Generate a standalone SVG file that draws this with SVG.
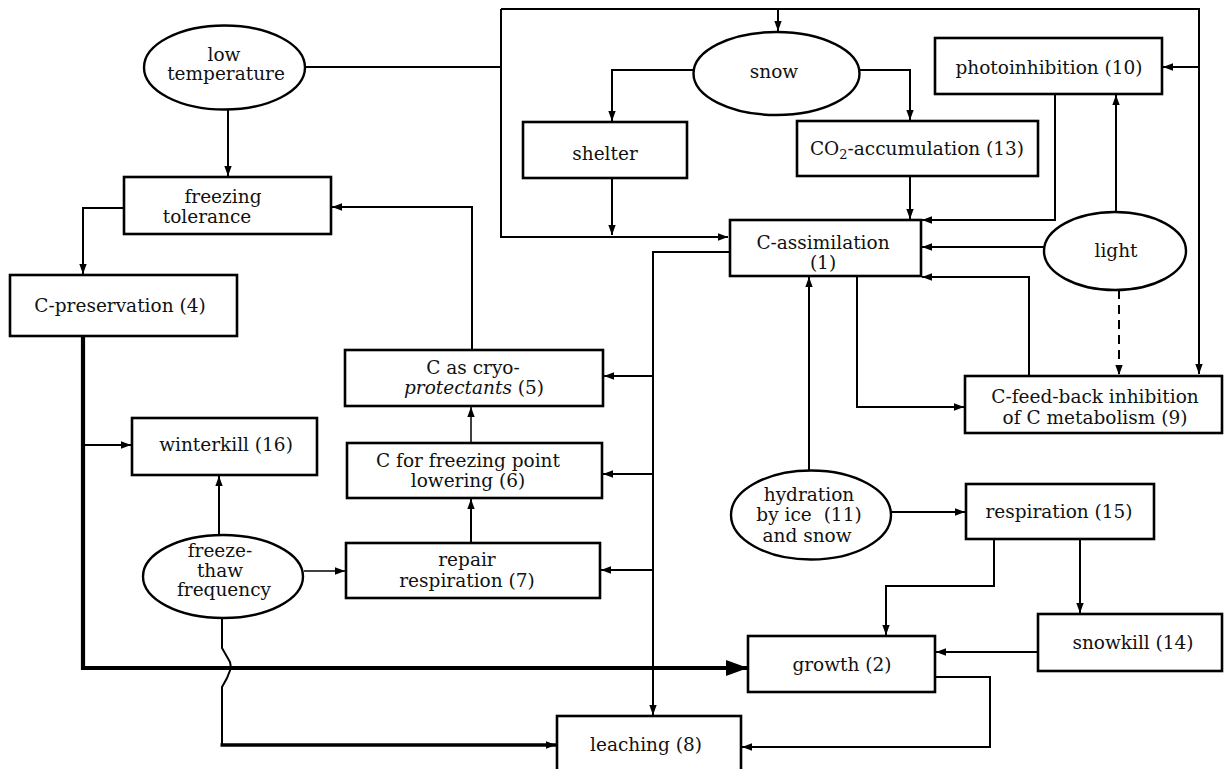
<svg xmlns="http://www.w3.org/2000/svg" width="1229" height="769" viewBox="0 0 1229 769">
<defs>
<marker id="ah" markerUnits="userSpaceOnUse" markerWidth="11" markerHeight="9" refX="10" refY="4.5" orient="auto">
<path d="M0,0.8 L10,4.5 L0,8.2 Z" fill="#000"/>
</marker>
<marker id="big" markerUnits="userSpaceOnUse" markerWidth="24" markerHeight="18" refX="22" refY="9" orient="auto">
<path d="M0,1 L22,9 L0,17 Z" fill="#000"/>
</marker>
<style>
.box{fill:#fff;stroke:#000;stroke-width:2.6}
.ell{fill:#fff;stroke:#000;stroke-width:2.4}
.c{fill:none;stroke:#000;stroke-width:2;marker-end:url(#ah)}
.ln{fill:none;stroke:#000;stroke-width:2}
.thin{stroke-width:1.5}
.dash{stroke-dasharray:9 6}
text{font-family:"DejaVu Serif","Liberation Serif",serif;font-size:18.5px;fill:#111;text-anchor:middle}
</style>
</defs>
<rect width="1229" height="769" fill="#fff"/>

<g id="connectors">
<path class="ln" d="M305,67 H501"/>
<path class="c" d="M501,9 V237 H728"/>
<path class="c" d="M501,9 H1199 V374"/>
<path class="c" d="M778,9 V31"/>
<path class="c" d="M1199,67 H1163"/>
<path class="c" d="M694,70 H612 V121"/>
<path class="c" d="M859,70 H910 V120"/>
<path class="c" d="M612,178 V235"/>
<path class="c" d="M910,176 V219"/>
<path class="c" d="M1055,94 V220 H922"/>
<path class="c" d="M1116,212 V95"/>
<path class="c" d="M1044,247 H922"/>
<path class="c" d="M1029,376 V277 H922"/>
<path class="c" d="M857,276 V407 H964"/>
<path class="c dash" d="M1119,290 V375"/>
<path class="c" d="M809,470 V277"/>
<path class="c" d="M891,512 H965"/>
<path class="c" d="M994,539 V586 H886 V635"/>
<path class="c" d="M1080,539 V613"/>
<path class="c" d="M1038,652 H936"/>
<path class="c" d="M935,677 H990 V747 H742"/>
<path class="c" d="M730,252 H653 V715"/>
<path class="c" d="M653,376 H604"/>
<path class="c" d="M653,474 H603"/>
<path class="c" d="M653,570 H601"/>
<path class="c" d="M472,350 V207 H332"/>
<path class="c thin" d="M471,443 V407"/>
<path class="c" d="M471,543 V499"/>
<path class="c thin" d="M304,571 H345"/>
<path class="c" d="M219,535 V476"/>
<path class="c" d="M228,110 V176"/>
<path class="c" d="M124,208 H83 V274"/>
<path fill="none" stroke="#000" stroke-width="4.2" marker-end="url(#big)" d="M83,336 V668 H748"/>
<path class="c" d="M83,445 H131"/>
<path class="ln" d="M222,618 V648 L230,662 L231,668 L227,678 L222,687 V745"/>
<path fill="none" stroke="#000" stroke-width="3.6" marker-end="url(#ah)" d="M220.5,745 H556"/>
</g>

<g id="n-lowtemp"><ellipse class="ell" cx="224.5" cy="67.5" rx="80.5" ry="42"/><text x="224" y="61">low</text><text x="226" y="80">temperature</text></g>
<g id="n-freezingtol"><rect class="box" x="124" y="177" width="207" height="57"/><text x="223" y="203">freezing</text><text x="207" y="223">tolerance</text></g>
<g id="n-cpres"><rect class="box" x="10" y="275" width="227" height="61"/><text x="120" y="312">C-preservation (4)</text></g>
<g id="n-winterkill"><rect class="box" x="132" y="418" width="185" height="57"/><text x="226" y="451">winterkill (16)</text></g>
<g id="n-cryo"><rect class="box" x="345" y="350" width="258" height="56"/><text x="473" y="374">C as cryo-</text><text x="474" y="394"><tspan font-style="italic">protectants</tspan> (5)</text></g>
<g id="n-fpl"><rect class="box" x="347" y="443" width="255" height="55"/><text x="468" y="467">C for freezing point</text><text x="468" y="487">lowering (6)</text></g>
<g id="n-repair"><rect class="box" x="346" y="543" width="254" height="55"/><text x="467" y="566">repair</text><text x="467" y="587">respiration (7)</text></g>
<g id="n-freezethaw"><ellipse class="ell" cx="223" cy="576.5" rx="80" ry="41.5"/><text x="220" y="557">freeze-</text><text x="220" y="577">thaw</text><text x="224" y="596">frequency</text></g>
<g id="n-leaching"><rect class="box" x="557" y="716" width="184" height="62"/><text x="646" y="751">leaching (8)</text></g>
<g id="n-growth"><rect class="box" x="748" y="636" width="187" height="56"/><text x="842" y="671">growth (2)</text></g>
<g id="n-snowkill"><rect class="box" x="1038" y="614" width="184" height="57"/><text x="1133" y="649">snowkill (14)</text></g>
<g id="n-respiration"><rect class="box" x="966" y="484" width="188" height="55"/><text x="1059" y="518">respiration (15)</text></g>
<g id="n-hydration"><ellipse class="ell" cx="811" cy="515" rx="80" ry="44.5"/><text x="809" y="501">hydration</text><text x="809" y="521">by ice <tspan dx="6">(11)</tspan></text><text x="807" y="542">and snow</text></g>
<g id="n-cfeedback"><rect class="box" x="965" y="376" width="257" height="57"/><text x="1095" y="403">C-feed-back inhibition</text><text x="1095" y="424">of C metabolism (9)</text></g>
<g id="n-light"><ellipse class="ell" cx="1115" cy="251" rx="71" ry="39"/><text x="1116" y="257">light</text></g>
<g id="n-cassim"><rect class="box" x="730" y="220" width="191" height="56"/><text x="823" y="249">C-assimilation</text><text x="823" y="269">(1)</text></g>
<g id="n-co2"><rect class="box" x="797" y="121" width="241" height="55"/><text x="917" y="155">CO<tspan font-size="13" dy="4">2</tspan><tspan dy="-4">-accumulation (13)</tspan></text></g>
<g id="n-shelter"><rect class="box" x="523" y="122" width="164" height="56"/><text x="605" y="160">shelter</text></g>
<g id="n-snow"><ellipse class="ell" cx="776.5" cy="73.5" rx="83" ry="41.5"/><text x="774" y="78">snow</text></g>
<g id="n-photo"><rect class="box" x="935" y="38" width="227" height="56"/><text x="1049" y="74">photoinhibition (10)</text></g>
</svg>
